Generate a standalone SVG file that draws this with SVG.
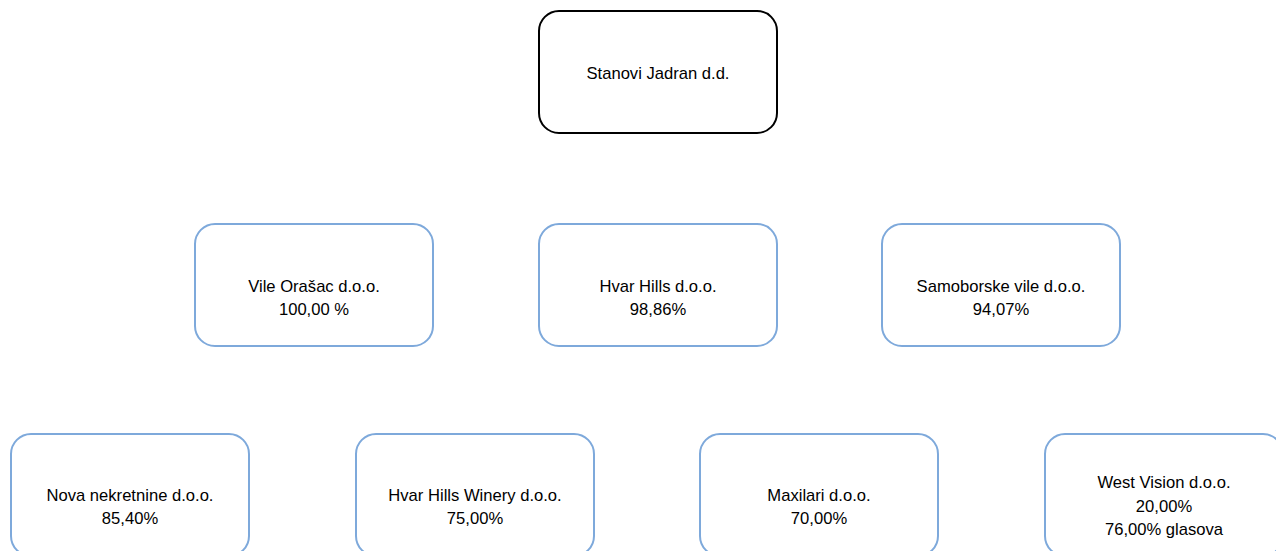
<svg xmlns="http://www.w3.org/2000/svg" width="1276" height="551" viewBox="0 0 1276 551">
<style>
.box{fill:#ffffff;stroke:#7ea9db;stroke-width:2}
.root{fill:#ffffff;stroke:#000000;stroke-width:2}
.t{font-family:"Liberation Sans",Arial,sans-serif;font-size:16.6px;fill:#000000;text-anchor:middle}
</style>
<rect width="1276" height="551" fill="#ffffff"/>
<g id="connectors"></g>
<g id="n-root"><rect class="root" x="539" y="11" width="238" height="122" rx="20"/><text class="t" x="658" y="79">Stanovi Jadran d.d.</text></g>
<g id="n-vile"><rect class="box" x="195" y="224" width="238" height="122" rx="20"/><text class="t" x="314" y="292">Vile Orašac d.o.o.</text><text class="t" x="314" y="315">100,00 %</text></g>
<g id="n-hvar"><rect class="box" x="539" y="224" width="238" height="122" rx="20"/><text class="t" x="658" y="292">Hvar Hills d.o.o.</text><text class="t" x="658" y="315">98,86%</text></g>
<g id="n-samob"><rect class="box" x="882" y="224" width="238" height="122" rx="20"/><text class="t" x="1001" y="292">Samoborske vile d.o.o.</text><text class="t" x="1001" y="315">94,07%</text></g>
<g id="n-nova"><rect class="box" x="11" y="434" width="238" height="122" rx="20"/><text class="t" x="130" y="501">Nova nekretnine d.o.o.</text><text class="t" x="130" y="524">85,40%</text></g>
<g id="n-winery"><rect class="box" x="356" y="434" width="238" height="122" rx="20"/><text class="t" x="475" y="501">Hvar Hills Winery d.o.o.</text><text class="t" x="475" y="524">75,00%</text></g>
<g id="n-maxilari"><rect class="box" x="700" y="434" width="238" height="122" rx="20"/><text class="t" x="819" y="501">Maxilari d.o.o.</text><text class="t" x="819" y="524">70,00%</text></g>
<g id="n-west"><rect class="box" x="1045" y="434" width="238" height="122" rx="20"/><text class="t" x="1164" y="488">West Vision d.o.o.</text><text class="t" x="1164" y="512">20,00%</text><text class="t" x="1164" y="535">76,00% glasova</text></g>
</svg>
